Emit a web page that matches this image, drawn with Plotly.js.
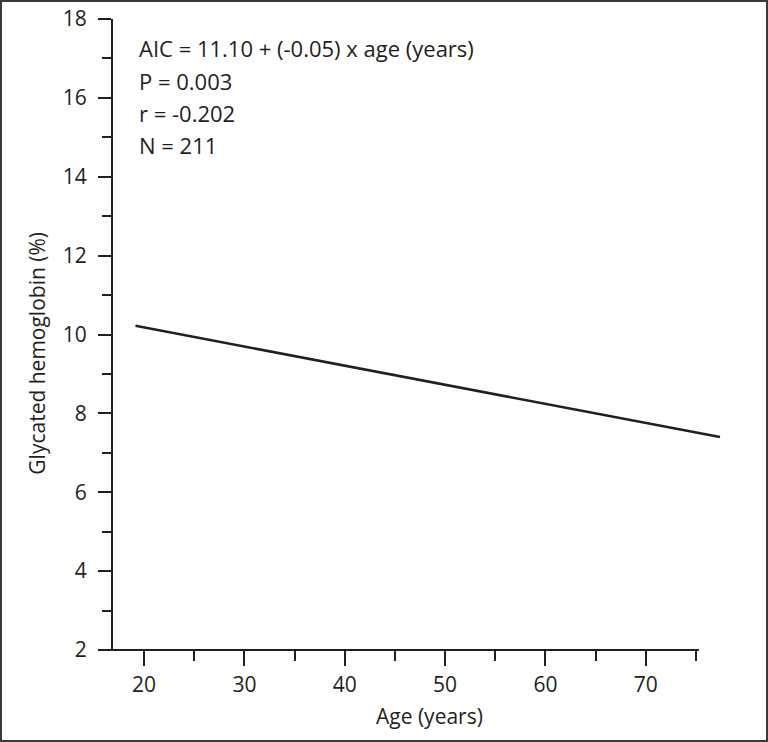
<!DOCTYPE html>
<html>
<head>
<meta charset="utf-8">
<script src="https://cdn.plot.ly/plotly-3.0.1.min.js"></script>
<style>
  html, body { margin: 0; padding: 0; background: #fff; }
  #wrap { position: relative; width: 768px; height: 742px; }
  #plot { position: absolute; left: 0; top: 0; width: 768px; height: 742px; }
  #frame { position: absolute; left: 0; top: 0; width: 768px; height: 742px; box-sizing: border-box;
           border: 2px solid #3a3a3a; pointer-events: none; }
</style>
</head>
<body>
<div id="wrap"><div id="plot"></div><div id="frame"></div></div>
<script>
// Regression line endpoints (age in years, glycated hemoglobin %)
const ageFit = [19.14, 77.4];
const hbFit = [10.22, 7.40];

// Axis ticks
const xMajorTicks = [20, 30, 40, 50, 60, 70];
const xMinorTicks = [25, 35, 45, 55, 65, 75];
const yMajorTicks = [2, 4, 6, 8, 10, 12, 14, 16, 18];
const yMinorTicks = [3, 5, 7, 9, 11, 13, 15, 17];

// Texts
const statsLines = ["AIC = 11.10 + (-0.05) x age (years)", "P = 0.003", "r = -0.202", "N = 211"];
const xTitle = "Age (years)";
const yTitle = "Glycated hemoglobin (%)";

const ink = '#231f20';
const font = { family: '"Open Sans", "Noto Sans", sans-serif', color: ink };

const xRange = [16.9, 77.6];
const xAxisEnd = 75.3;
const xAxisStart = 15.9;
const span = xRange[1] - xRange[0];

const statsY = [0.954, 0.902, 0.851, 0.800];

const annotations = statsLines.map((t, i) => ({
  text: t, xref: 'paper', yref: 'paper', x: 0.0394, y: statsY[i],
  xanchor: 'left', yanchor: 'middle', showarrow: false,
  font: Object.assign({}, font, { size: 22 })
}));
annotations.push({
  text: xTitle, xref: 'paper', yref: 'paper', x: 0.5205, y: -0.105,
  xanchor: 'center', yanchor: 'middle', showarrow: false,
  font: Object.assign({}, font, { size: 21 })
});
annotations.push({
  text: yTitle, xref: 'paper', yref: 'paper', x: -0.125, y: 0.471,
  xanchor: 'center', yanchor: 'middle', showarrow: false, textangle: -90,
  font: Object.assign({}, font, { size: 21 })
});

const data = [{
  x: ageFit, y: hbFit, type: 'scatter', mode: 'lines',
  line: { color: ink, width: 2.6 }, hoverinfo: 'skip', showlegend: false
}];

const layout = {
  width: 768, height: 742,
  margin: { l: 113, r: 46, t: 19, b: 92 },
  paper_bgcolor: '#fff', plot_bgcolor: '#fff',
  showlegend: false,
  font: font,
  xaxis: {
    range: xRange, showline: false, showgrid: false, zeroline: false,
    tickmode: 'array', tickvals: xMajorTicks, ticktext: xMajorTicks.map(String),
    ticks: 'outside', ticklen: 15, tickwidth: 2, tickcolor: ink,
    ticklabelstandoff: 1,
    tickfont: Object.assign({}, font, { size: 21 }),
    minor: { tickmode: 'array', tickvals: xMinorTicks, ticks: 'outside', ticklen: 10, tickwidth: 2, tickcolor: ink, showgrid: false }
  },
  yaxis: {
    range: [2, 18], showline: true, linewidth: 2, linecolor: ink,
    showgrid: false, zeroline: false,
    tickmode: 'array', tickvals: yMajorTicks, ticktext: yMajorTicks.map(String),
    ticks: 'outside', ticklen: 13, tickwidth: 2, tickcolor: ink,
    ticklabelstandoff: 7,
    tickfont: Object.assign({}, font, { size: 21 }),
    minor: { tickmode: 'array', tickvals: yMinorTicks, ticks: 'outside', ticklen: 9, tickwidth: 2, tickcolor: ink, showgrid: false }
  },
  shapes: [{
    type: 'line', xref: 'paper', yref: 'paper',
    x0: (xAxisStart - xRange[0]) / span, x1: (xAxisEnd - xRange[0]) / span,
    y0: 0, y1: 0, line: { color: ink, width: 2 }, layer: 'above'
  }],
  annotations: annotations
};

Plotly.newPlot('plot', data, layout, { staticPlot: true, displayModeBar: false });
</script>
</body>
</html>
